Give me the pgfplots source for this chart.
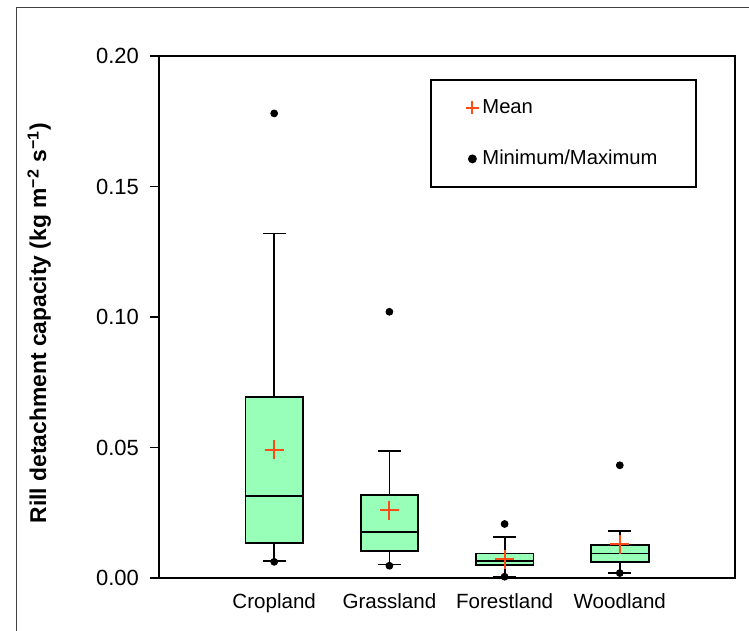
\documentclass[border=0pt]{standalone}
\usepackage{fontspec}
\setmainfont{Liberation Sans}
\usepackage{pgfplots}
\pgfplotsset{compat=1.18}
\definecolor{boxgreen}{RGB}{152,255,185}
\definecolor{meanred}{RGB}{255,75,20}
\pgfplotsset{shortmark legend/.style={legend image code/.code={%
  \draw[mark repeat=2,mark phase=2,##1] plot coordinates {(0cm,0cm) (0.15cm,0cm) (0.3cm,0cm)};}},
  boxfill/.style={forget plot, draw=black, fill=boxgreen, line width=0.36mm, mark=none},
  boxline/.style={forget plot, draw=black, line width=0.36mm, mark=none, unbounded coords=jump}}

\begin{document}
\begin{tikzpicture}
\useasboundingbox (0,0) rectangle (14.98,12.6);
% outer frame (cut by the page on the right and bottom)
\draw[line width=0.3mm, black!75] (0.334,-0.5) -- (0.334,12.454) -- (15.5,12.454);
\begin{axis}[
  at={(3.18cm,1.04cm)}, anchor=south west,
  scale only axis, width=11.52cm, height=10.44cm,
  xmin=0, xmax=5, ymin=0, ymax=0.2,
  axis line style={line width=0.36mm},
  xtick={1,2,3,4},
  xticklabels={Cropland,Grassland,Forestland,Woodland},
  x tick style={draw=none},
  ytick={0,0.05,0.1,0.15,0.2},
  y tick style={line width=0.36mm, black},
  tick align=outside, major tick length=1.8mm,
  ytick pos=left, xtick pos=bottom,
  scaled y ticks=false,
  /pgf/number format/assume math mode=true,
  yticklabel style={/pgf/number format/fixed, /pgf/number format/fixed zerofill,
    /pgf/number format/precision=2, font=\fontsize{12.5}{15}\selectfont, xshift=-1mm},
  xticklabel style={font=\fontsize{11.7}{14}\selectfont},
  ylabel={Rill detachment capacity (kg m\textsuperscript{−2} s\textsuperscript{−1})},
  ylabel style={font=\bfseries\fontsize{13}{15}\selectfont,
    at={(axis description cs:-0.208,0.488)}, anchor=center},
  legend style={at={(0.4705,0.9554)}, anchor=north west, draw=black, line width=0.36mm,
    inner xsep=0.7cm, inner ysep=0.32cm, row sep=0.54cm,
    font=\fontsize{11.5}{14}\selectfont},
  legend cell align=left,
]
% boxes: lower quartile to upper quartile
\addplot[boxfill] coordinates {(0.75,0.0133) (1.25,0.0133) (1.25,0.0693) (0.75,0.0693)} -- cycle;
\addplot[boxfill] coordinates {(1.75,0.0103) (2.25,0.0103) (2.25,0.0317) (1.75,0.0317)} -- cycle;
\addplot[boxfill] coordinates {(2.75,0.0050) (3.25,0.0050) (3.25,0.0094) (2.75,0.0094)} -- cycle;
\addplot[boxfill] coordinates {(3.75,0.0062) (4.25,0.0062) (4.25,0.0126) (3.75,0.0126)} -- cycle;
% medians, whiskers and caps
\addplot[boxline] coordinates {
  (0.75,0.0315) (1.25,0.0315) (1,nan)
  (1,0.0133) (1,0.0065) (1,nan) (0.9,0.0065) (1.1,0.0065) (1,nan)
  (1,0.0693) (1,0.132) (1,nan) (0.9,0.132) (1.1,0.132)};
\addplot[boxline] coordinates {
  (1.75,0.0177) (2.25,0.0177) (2,nan)
  (2,0.0103) (2,0.0052) (2,nan) (1.9,0.0052) (2.1,0.0052) (2,nan)
  (2,0.0317) (2,0.0486) (2,nan) (1.9,0.0486) (2.1,0.0486)};
\addplot[boxline] coordinates {
  (2.75,0.0065) (3.25,0.0065) (3,nan)
  (3,0.0050) (3,0.0005) (3,nan) (2.9,0.0005) (3.1,0.0005) (3,nan)
  (3,0.0094) (3,0.0157) (3,nan) (2.9,0.0157) (3.1,0.0157)};
\addplot[boxline] coordinates {
  (3.75,0.0094) (4.25,0.0094) (4,nan)
  (4,0.0062) (4,0.0019) (4,nan) (3.9,0.0019) (4.1,0.0019) (4,nan)
  (4,0.0126) (4,0.0181) (4,nan) (3.9,0.0181) (4.1,0.0181)};
% legend order: mean first
\addlegendimage{only marks, mark=+, mark size=1.3mm, meanred, mark options={line width=0.4mm}, shortmark legend}
\addlegendentry{Mean}
\addlegendimage{only marks, mark=*, mark size=0.7mm, black, shortmark legend}
\addlegendentry{Minimum/Maximum}
% minimum / maximum
\addplot[forget plot, only marks, mark=*, mark size=0.7mm, black]
  coordinates {(1,0.178) (1,0.0062) (2,0.102) (2,0.0047)
               (3,0.0207) (3,0.0005) (4,0.0432) (4,0.0019)};
% means
\addplot[forget plot, only marks, mark=+, mark size=1.9mm, meanred, mark options={line width=0.4mm}]
  coordinates {(1,0.0492) (2,0.026) (3,0.0072) (4,0.0129)};
\end{axis}
\end{tikzpicture}
\end{document}
